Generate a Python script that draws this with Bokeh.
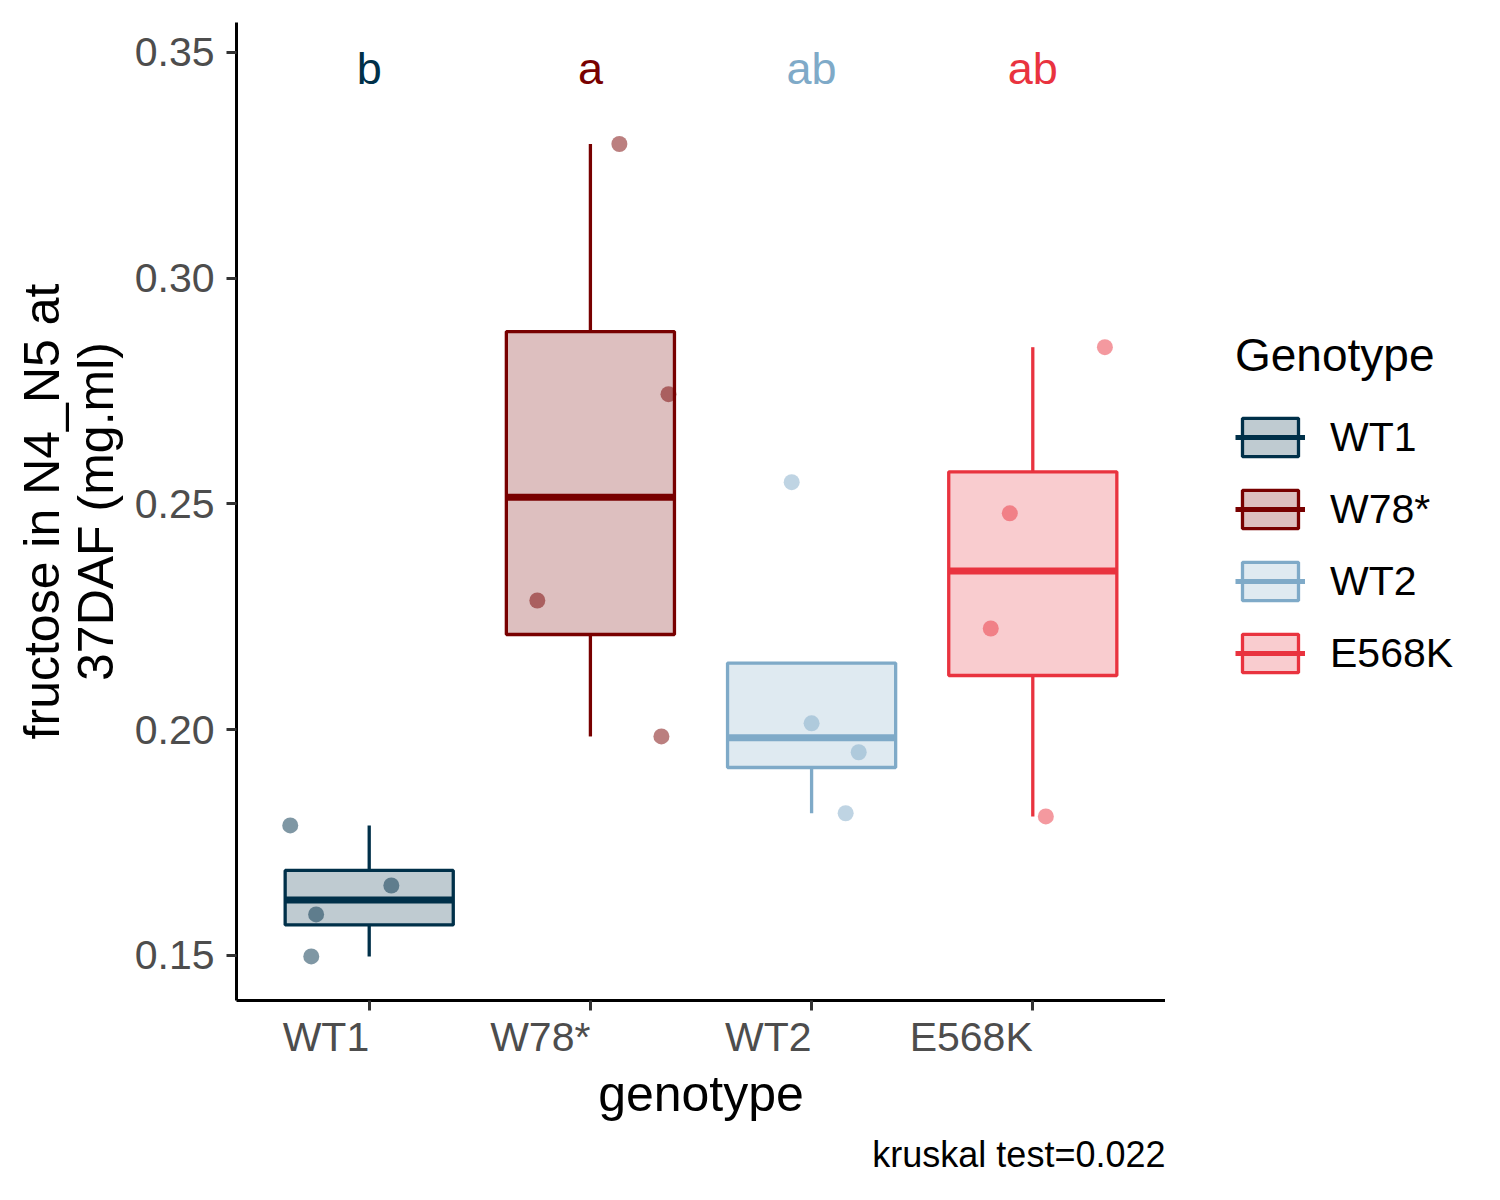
import numpy as np
from bokeh.plotting import figure
from bokeh.layouts import row
from bokeh.models import (ColumnDataSource, Range1d, FixedTicker, Legend,
                          LegendItem, NumeralTickFormatter, Title)
from bokeh.embed import file_html
from bokeh.resources import INLINE
from bokeh.core.properties import value

# ---------------- data ----------------
genotypes = ["WT1", "W78*", "WT2", "E568K"]
colors = ["#003049", "#780000", "#7FAAC8", "#E9333F"]
letters = ["b", "a", "ab", "ab"]
letter_y = 0.3464

wt1_values = [0.1788, 0.1655, 0.1591, 0.1498]
w78_values = [0.3297, 0.2743, 0.2286, 0.1985]
wt2_values = [0.2548, 0.2014, 0.1950, 0.1815]
e568k_values = [0.2847, 0.2479, 0.2224, 0.1808]

# horizontal jitter of each point (category units)
wt1_jitter = [-0.357, 0.100, -0.240, -0.262]
w78_jitter = [0.131, 0.353, -0.240, 0.321]
wt2_jitter = [-0.090, 0.000, 0.213, 0.154]
e568k_jitter = [0.326, -0.104, -0.190, 0.059]

x_title = "genotype"
y_title = "fructose in N4_N5 at\n37DAF (mg.ml)"
legend_title = "Genotype"
caption = "kruskal test=0.022"
y_ticks = [0.15, 0.20, 0.25, 0.30, 0.35]

group_values = [wt1_values, w78_values, wt2_values, e568k_values]
group_jitter = [wt1_jitter, w78_jitter, wt2_jitter, e568k_jitter]
FONT = "Liberation Sans"

# ---------------- box statistics (ggplot style) ----------------
pos = [i + 1 for i in range(len(genotypes))]
q1s, meds, q3s, lows, highs = [], [], [], [], []
for vals in group_values:
    v = np.array(vals)
    q1, med, q3 = np.percentile(v, [25, 50, 75])
    iqr = q3 - q1
    inside = v[(v >= q1 - 1.5 * iqr) & (v <= q3 + 1.5 * iqr)]
    lo = min(q1, inside.min())
    hi = max(q3, inside.max())
    q1s.append(q1); meds.append(med); q3s.append(q3); lows.append(lo); highs.append(hi)

box_w = 0.76
box_src = ColumnDataSource(dict(
    x=pos, left=[p - box_w / 2 for p in pos], right=[p + box_w / 2 for p in pos],
    q1=q1s, med=meds, q3=q3s, lo=lows, hi=highs, color=colors, label=genotypes))

pt_x, pt_y, pt_c = [], [], []
for i, (vals, jit) in enumerate(zip(group_values, group_jitter)):
    for v, j in zip(vals, jit):
        pt_x.append(pos[i] + j); pt_y.append(v); pt_c.append(colors[i])
pt_src = ColumnDataSource(dict(x=pt_x, y=pt_y, color=pt_c))

# ---------------- main figure ----------------
H = 1190
p = figure(width=1165, height=H, output_backend="svg", toolbar_location=None,
           x_range=Range1d(0.4, 4.6), y_range=Range1d(0.14003, 0.3566),
           min_border_left=236, min_border_right=0, min_border_top=22,
           min_border_bottom=H - 1000)
p.grid.visible = False
p.outline_line_color = None
p.background_fill_color = "white"
p.border_fill_color = "white"

for ax in (p.xaxis[0], p.yaxis[0]):
    ax.axis_line_color = "black"
    ax.axis_line_width = 3
    ax.major_tick_line_color = "#333333"
    ax.major_tick_line_width = 3
    ax.major_tick_out = 10
    ax.major_tick_in = 0
    ax.minor_tick_line_color = None
    ax.major_label_text_font = FONT
    ax.major_label_text_font_size = "41px"
    ax.major_label_text_color = "#4D4D4D"
    ax.axis_label_text_font = FONT
    ax.axis_label_text_font_size = "50px"
    ax.axis_label_text_font_style = "normal"
    ax.axis_label_text_color = "black"

p.xaxis.ticker = FixedTicker(ticks=pos)
p.xaxis.major_label_overrides = {pp: g for pp, g in zip(pos, genotypes)}
# labels end at their tick (right aligned), as in the reference
p.xaxis.major_label_orientation = 1e-4
p.xaxis.major_label_standoff = 26
p.xaxis.axis_label = x_title
p.xaxis.axis_label_standoff = -20

p.yaxis.ticker = FixedTicker(ticks=y_ticks)
p.yaxis.formatter = NumeralTickFormatter(format="0.00")
p.yaxis.major_label_standoff = 12
p.yaxis.axis_label = y_title
p.yaxis.axis_label_standoff = 8
p.yaxis.axis_label_text_line_height = 0.95

# whiskers
p.segment(x0="x", y0="q3", x1="x", y1="hi", source=box_src, line_color="color", line_width=3.3)
p.segment(x0="x", y0="lo", x1="x", y1="q1", source=box_src, line_color="color", line_width=3.3)
# boxes
p.quad(left="left", right="right", bottom="q1", top="q3", source=box_src,
       fill_color="color", fill_alpha=0.25, line_color="color", line_width=3.3)
p.segment(x0="left", y0="med", x1="right", y1="med", source=box_src,
          line_color="color", line_width=7)
# jittered points
p.scatter(x="x", y="y", source=pt_src, size=16, fill_color="color", line_color=None,
          fill_alpha=0.5)
# letters
p.text(x=pos, y=[letter_y] * len(pos), text=letters, text_color=colors,
       text_font=value(FONT), text_font_size="45px", text_align="center",
       text_baseline="middle")

# caption
p.add_layout(Title(text=caption, align="right", text_font=FONT, text_font_size="36px",
                   text_font_style="normal", text_color="black", standoff=15), "below")

# ---------------- legend panel (separate figure, keys drawn from the same box data) ----------------
lg = figure(width=325, height=H, output_backend="svg", toolbar_location=None,
            x_range=Range1d(100, 101), y_range=Range1d(100, 101),
            x_axis_location=None, y_axis_location=None,
            min_border_left=0, min_border_right=0, min_border_top=0, min_border_bottom=0)
lg.grid.visible = False
lg.outline_line_color = None
lg.background_fill_color = "white"
lg.border_fill_color = "white"

key_box = lg.quad(left="left", right="right", bottom="q1", top="q3", source=box_src,
                  fill_color="color", fill_alpha=0.25, line_color="color", line_width=3.3)
key_med = lg.segment(x0="left", y0="med", x1="right", y1="med", source=box_src,
                     line_color="color", line_width=5)

items = [LegendItem(label=g, renderers=[key_box, key_med], index=i)
         for i, g in enumerate(genotypes)]
legend = Legend(items=items, location=(70, 323), title=legend_title,
                title_text_font=FONT, title_text_font_size="46px",
                title_text_font_style="normal", title_text_color="black",
                title_standoff=31,
                label_text_font=FONT, label_text_font_size="41px", label_text_color="black",
                glyph_width=70, glyph_height=48, label_height=48, label_standoff=25,
                spacing=24, padding=0, margin=0, border_line_color=None,
                background_fill_alpha=0)
lg.add_layout(legend)

layout = row(p, lg, spacing=0)
open("out.html", "w").write(file_html(layout, INLINE))
